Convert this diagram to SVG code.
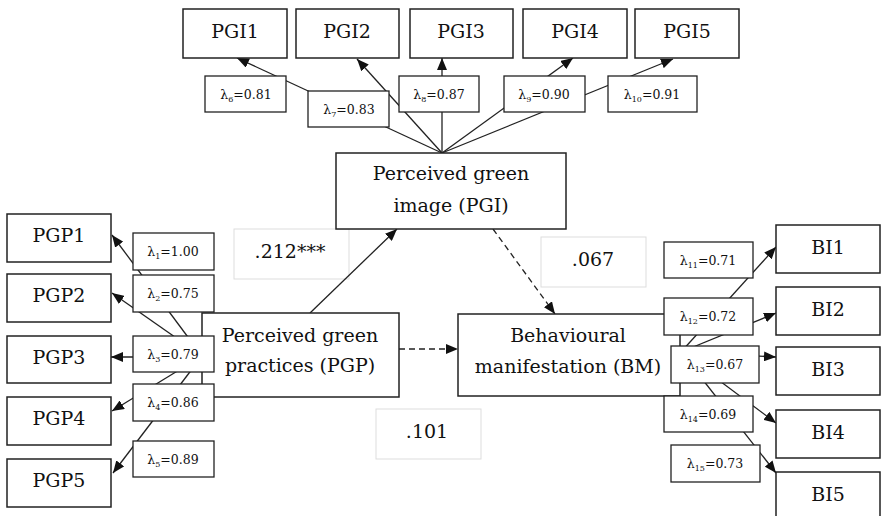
<svg xmlns="http://www.w3.org/2000/svg" width="888" height="516" viewBox="0 0 888 516">
<style>
text{font-family:'DejaVu Serif','Liberation Serif','Times New Roman',serif;fill:#111;text-anchor:middle}
.box{fill:#fff;stroke:#222;stroke-width:1.5}
.lam{fill:#fff;stroke:#222;stroke-width:1.3}
.coef{fill:#fff;stroke:#ddd;stroke-width:1}
.ind{font-size:19px}
.con{font-size:19px}
.lt{font-size:12.5px}
.ct{font-size:19px}
.ln{stroke:#222;stroke-width:1.3;fill:none}
.dash{stroke-dasharray:6,4}
</style>
<defs>
<marker id="ah" markerWidth="12" markerHeight="10" refX="12" refY="5" orient="auto" markerUnits="userSpaceOnUse">
<path d="M0,0 L12,5 L0,10 z" fill="#111"/>
</marker>
</defs>

<g id="coefficients">
<g id="c212"><rect class="coef" x="234" y="229" width="115" height="50"/><text class="ct" x="290" y="258">.212***</text></g>
<g id="c067"><rect class="coef" x="541" y="237" width="105" height="50"/><text class="ct" x="593" y="266">.067</text></g>
<g id="c101"><rect class="coef" x="376" y="409" width="105" height="50"/><text class="ct" x="427" y="438">.101</text></g>
</g>

<g id="connectors">
<line class="ln" x1="442" y1="153" x2="237" y2="58" marker-end="url(#ah)"/>
<line class="ln" x1="442" y1="153" x2="357" y2="59" marker-end="url(#ah)"/>
<line class="ln" x1="442" y1="153" x2="442" y2="58" marker-end="url(#ah)"/>
<line class="ln" x1="442" y1="153" x2="573" y2="58" marker-end="url(#ah)"/>
<line class="ln" x1="442" y1="153" x2="673" y2="59" marker-end="url(#ah)"/>
<line class="ln" x1="202" y1="356" x2="112" y2="235" marker-end="url(#ah)"/>
<line class="ln" x1="202" y1="356" x2="112" y2="293" marker-end="url(#ah)"/>
<line class="ln" x1="202" y1="357" x2="111" y2="357" marker-end="url(#ah)"/>
<line class="ln" x1="202" y1="356" x2="112" y2="411" marker-end="url(#ah)"/>
<line class="ln" x1="202" y1="356" x2="113" y2="473" marker-end="url(#ah)"/>
<line class="ln" x1="681" y1="352" x2="776" y2="247" marker-end="url(#ah)"/>
<line class="ln" x1="681" y1="352" x2="776" y2="313" marker-end="url(#ah)"/>
<line class="ln" x1="681" y1="352" x2="776" y2="357" marker-end="url(#ah)"/>
<line class="ln" x1="681" y1="352" x2="776" y2="423" marker-end="url(#ah)"/>
<line class="ln" x1="681" y1="352" x2="776" y2="473" marker-end="url(#ah)"/>
<line class="ln" x1="310" y1="313" x2="397" y2="229" marker-end="url(#ah)"/>
<line class="ln dash" x1="493" y1="229" x2="555" y2="314" marker-end="url(#ah)"/>
<line class="ln dash" x1="399" y1="349" x2="458" y2="349" marker-end="url(#ah)"/>
</g>

<g id="PGI1"><rect class="box" x="183" y="9" width="104" height="49"/><text class="ind" x="235" y="38">PGI1</text></g>
<g id="PGI2"><rect class="box" x="296" y="9" width="103" height="49"/><text class="ind" x="347" y="38">PGI2</text></g>
<g id="PGI3"><rect class="box" x="410" y="9" width="103" height="49"/><text class="ind" x="461" y="38">PGI3</text></g>
<g id="PGI4"><rect class="box" x="523" y="9" width="104" height="49"/><text class="ind" x="575" y="38">PGI4</text></g>
<g id="PGI5"><rect class="box" x="635" y="9" width="104" height="49"/><text class="ind" x="687" y="38">PGI5</text></g>

<g id="PGP1"><rect class="box" x="7" y="214" width="104" height="48"/><text class="ind" x="59" y="242">PGP1</text></g>
<g id="PGP2"><rect class="box" x="7" y="274" width="104" height="48"/><text class="ind" x="59" y="302">PGP2</text></g>
<g id="PGP3"><rect class="box" x="7" y="336" width="104" height="47"/><text class="ind" x="59" y="364">PGP3</text></g>
<g id="PGP4"><rect class="box" x="7" y="397" width="104" height="48"/><text class="ind" x="59" y="425">PGP4</text></g>
<g id="PGP5"><rect class="box" x="7" y="459" width="104" height="48"/><text class="ind" x="59" y="487">PGP5</text></g>

<g id="BI1"><rect class="box" x="776" y="225" width="104" height="48"/><text class="ind" x="828" y="254">BI1</text></g>
<g id="BI2"><rect class="box" x="776" y="287" width="104" height="48"/><text class="ind" x="828" y="316">BI2</text></g>
<g id="BI3"><rect class="box" x="776" y="347" width="104" height="48"/><text class="ind" x="828" y="376">BI3</text></g>
<g id="BI4"><rect class="box" x="776" y="410" width="104" height="48"/><text class="ind" x="828" y="439">BI4</text></g>
<g id="BI5"><rect class="box" x="776" y="472" width="104" height="50"/><text class="ind" x="828" y="501">BI5</text></g>

<g id="PGI"><rect class="box" x="336" y="153" width="230" height="76"/><text class="con" x="451" y="180">Perceived green</text><text class="con" x="451" y="212">image (PGI)</text></g>
<g id="PGP"><rect class="box" x="202" y="313" width="197" height="84"/><text class="con" x="300" y="342">Perceived green</text><text class="con" x="300" y="372">practices (PGP)</text></g>
<g id="BM"><rect class="box" x="458" y="314" width="222" height="82"/><text class="con" x="568" y="342">Behavioural</text><text class="con" x="568" y="373">manifestation (BM)</text></g>

<g id="loadings">
<g id="L6"><rect class="lam" x="205" y="76" width="81" height="36"/><text class="lt" x="246" y="99">λ<tspan font-size="8" dy="3">6</tspan><tspan dy="-3">=0.81</tspan></text></g>
<g id="L7"><rect class="lam" x="308" y="91" width="81" height="36"/><text class="lt" x="349" y="114">λ<tspan font-size="8" dy="3">7</tspan><tspan dy="-3">=0.83</tspan></text></g>
<g id="L8"><rect class="lam" x="399" y="76" width="80" height="36"/><text class="lt" x="439" y="99">λ<tspan font-size="8" dy="3">8</tspan><tspan dy="-3">=0.87</tspan></text></g>
<g id="L9"><rect class="lam" x="504" y="76" width="81" height="36"/><text class="lt" x="544" y="99">λ<tspan font-size="8" dy="3">9</tspan><tspan dy="-3">=0.90</tspan></text></g>
<g id="L10"><rect class="lam" x="608" y="76" width="89" height="36"/><text class="lt" x="652" y="99">λ<tspan font-size="8" dy="3">10</tspan><tspan dy="-3">=0.91</tspan></text></g>

<g id="L1"><rect class="lam" x="133" y="233" width="81" height="37"/><text class="lt" x="173" y="256">λ<tspan font-size="8" dy="3">1</tspan><tspan dy="-3">=1.00</tspan></text></g>
<g id="L2"><rect class="lam" x="133" y="275" width="81" height="37"/><text class="lt" x="173" y="298">λ<tspan font-size="8" dy="3">2</tspan><tspan dy="-3">=0.75</tspan></text></g>
<g id="L3"><rect class="lam" x="133" y="336" width="81" height="36"/><text class="lt" x="173" y="359">λ<tspan font-size="8" dy="3">3</tspan><tspan dy="-3">=0.79</tspan></text></g>
<g id="L4"><rect class="lam" x="133" y="384" width="81" height="37"/><text class="lt" x="173" y="407">λ<tspan font-size="8" dy="3">4</tspan><tspan dy="-3">=0.86</tspan></text></g>
<g id="L5"><rect class="lam" x="133" y="441" width="81" height="36"/><text class="lt" x="173" y="464">λ<tspan font-size="8" dy="3">5</tspan><tspan dy="-3">=0.89</tspan></text></g>

<g id="L11"><rect class="lam" x="664" y="242" width="89" height="36"/><text class="lt" x="708" y="265">λ<tspan font-size="8" dy="3">11</tspan><tspan dy="-3">=0.71</tspan></text></g>
<g id="L12"><rect class="lam" x="664" y="298" width="89" height="37"/><text class="lt" x="708" y="321">λ<tspan font-size="8" dy="3">12</tspan><tspan dy="-3">=0.72</tspan></text></g>
<g id="L13"><rect class="lam" x="671" y="346" width="88" height="37"/><text class="lt" x="715" y="369">λ<tspan font-size="8" dy="3">13</tspan><tspan dy="-3">=0.67</tspan></text></g>
<g id="L14"><rect class="lam" x="664" y="396" width="89" height="36"/><text class="lt" x="708" y="419">λ<tspan font-size="8" dy="3">14</tspan><tspan dy="-3">=0.69</tspan></text></g>
<g id="L15"><rect class="lam" x="671" y="445" width="89" height="37"/><text class="lt" x="715" y="468">λ<tspan font-size="8" dy="3">15</tspan><tspan dy="-3">=0.73</tspan></text></g>
</g>
</svg>
